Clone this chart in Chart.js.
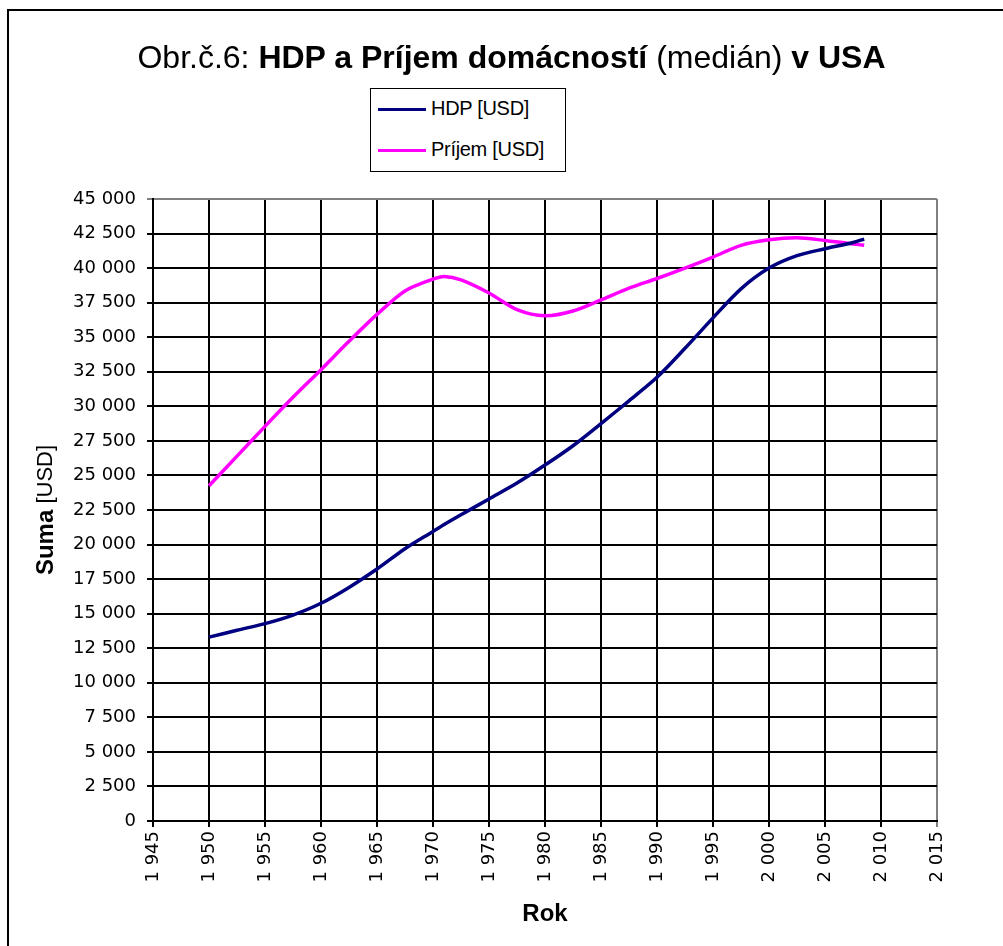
<!DOCTYPE html>
<html>
<head>
<meta charset="utf-8">
<script src="https://cdn.jsdelivr.net/npm/chart.js@4"></script>
<style>
  html, body { margin: 0; padding: 0; background: #fff; overflow: hidden; }
  #wrap { position: relative; width: 1003px; height: 946px; }
  #frame { position: absolute; left: 7px; top: 9px; width: 1100px; height: 1100px; border: 2px solid #000; box-sizing: border-box; }
  #title { position: absolute; left: 10px; width: 1003px; top: 39px; text-align: center;
           font-family: "Liberation Sans Narrow", "Liberation Sans", Arial, sans-serif; font-size: 32px; color: #000; white-space: nowrap; }
  #legend { position: absolute; left: 370px; top: 88px; width: 196px; height: 84px; border: 1.5px solid #000; box-sizing: border-box; background: #fff;
            font-family: "Liberation Sans Narrow", "Liberation Sans", Arial, sans-serif; font-size: 20px; letter-spacing: -0.3px; }
  .item { position: absolute; left: 7px; height: 24px; line-height: 24px; }
  .sw { display: inline-block; width: 48px; height: 3px; vertical-align: middle; margin-right: 5px; }
  canvas { position: absolute; left: 0; top: 0; }
</style>
</head>
<body>
<div id="wrap">
  <div id="frame"></div>
  <canvas id="chart" width="1003" height="946"></canvas>
  <div id="title">Obr.č.6: <b>HDP a Príjem domácností</b> (medián) <b>v USA</b></div>
  <div id="legend">
    <div class="item" style="top:7px"><span class="sw" style="background:#000080"></span>HDP [USD]</div>
    <div class="item" style="top:48px"><span class="sw" style="background:#ff00ff"></span>Príjem [USD]</div>
  </div>
</div>
<script>
// roky (osa x)
const years = [1950, 1952.5, 1955, 1957.5, 1960, 1962.5, 1965, 1967.5, 1970, 1971, 1972.5, 1975, 1977.5,
               1980, 1982.5, 1985, 1987.5, 1990, 1992.5, 1995, 1997.5, 2000, 2002.5, 2005, 2007.5, 2008.5];
// HDP na obyvatela [USD]
const hdp = [13300, 13800, 14280, 14900, 15750, 16900, 18230, 19700, 20950, 21450, 22150, 23300, 24450,
             25750, 27150, 28750, 30400, 32100, 34200, 36400, 38500, 40000, 40900, 41400, 41850, 42100];
// Príjem domácností - medián [USD]
const prijem = [24250, 26400, 28550, 30650, 32650, 34700, 36650, 38350, 39200, 39400, 39150, 38200, 37000,
                36550, 36900, 37700, 38550, 39250, 40000, 40800, 41650, 42050, 42200, 42000, 41750, 41650];

const seriesNames = ['HDP [USD]', 'Príjem [USD]'];
const xMin = 1945, xMax = 2015, xStep = 5;
const yMin = 0, yMax = 45000, yStep = 2500;

const fmt = v => String(v).replace(/\B(?=(\d{3})+(?!\d))/g, ' ');
const tickFont = { family: 'DejaVu Sans', size: 18 };

// popis osy y (Suma tucne, [USD] normalne)
const yTitlePlugin = {
    id: 'yTitle',
    afterDraw(chart) {
        const ctx = chart.ctx;
        const area = chart.chartArea;
        const cy = (area.top + area.bottom) / 2;
        const boldFont = 'bold 24px "Liberation Sans", Arial';
        const normFont = '22px "Liberation Sans", Arial';
        ctx.save();
        ctx.translate(46, cy);
        ctx.rotate(-Math.PI / 2);
        ctx.fillStyle = '#000';
        ctx.textBaseline = 'middle';
        ctx.textAlign = 'left';
        ctx.font = boldFont;
        const w1 = ctx.measureText('Suma').width;
        ctx.font = normFont;
        const w2 = ctx.measureText(' [USD]').width;
        const x = -(w1 + w2) / 2;
        ctx.font = boldFont;
        ctx.fillText('Suma', x, 0);
        ctx.font = normFont;
        ctx.fillText(' [USD]', x + w1, 0);
        ctx.restore();
    }
};

const ctx = document.getElementById('chart').getContext('2d');
const chart = new Chart(ctx, {
    type: 'line',
    data: {
        datasets: [{
            label: seriesNames[0],
            data: years.map((x, i) => ({ x: x, y: hdp[i] })),
            borderColor: '#000080',
            borderWidth: 3.5,
            pointRadius: 0,
            tension: 0.3,
            fill: false
        }, {
            label: seriesNames[1],
            data: years.map((x, i) => ({ x: x, y: prijem[i] })),
            borderColor: '#ff00ff',
            borderWidth: 3.5,
            pointRadius: 0,
            tension: 0.3,
            fill: false
        }]
    },
    options: {
        responsive: false,
        animation: false,
        layout: { padding: { top: 199, right: 66, left: 0, bottom: 0 } },
        plugins: {
            legend: { display: false },
            tooltip: { enabled: false }
        },
        scales: {
            x: {
                type: 'linear',
                min: xMin,
                max: xMax,
                afterFit: s => { s.height = 125; },
                ticks: {
                    stepSize: xStep,
                    autoSkip: false,
                    maxRotation: 90,
                    minRotation: 90,
                    padding: 4,
                    color: '#000',
                    font: tickFont,
                    callback: v => fmt(v)
                },
                grid: {
                    color: c => (c.tick && c.tick.value === xMax) ? '#808080' : '#000',
                    lineWidth: 2,
                    tickLength: 6
                },
                border: { color: '#000', width: 2 },
                title: {
                    display: true,
                    text: 'Rok',
                    color: '#000',
                    font: { family: 'Liberation Sans', size: 24, weight: 'bold' },
                    padding: { top: 0, bottom: 17 }
                }
            },
            y: {
                min: yMin,
                max: yMax,
                afterFit: s => { s.width = 153; },
                ticks: {
                    stepSize: yStep,
                    padding: 11,
                    color: '#000',
                    font: tickFont,
                    callback: v => fmt(v)
                },
                grid: {
                    color: c => (c.tick && c.tick.value === yMax) ? '#808080' : '#000',
                    lineWidth: 2,
                    tickLength: 6
                },
                border: { color: '#000', width: 2 }
            }
        }
    },
    plugins: [yTitlePlugin]
});
</script>
</body>
</html>
